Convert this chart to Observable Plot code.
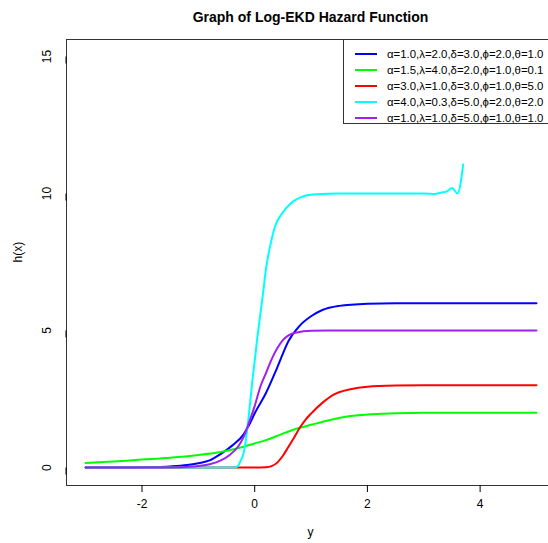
<!DOCTYPE html>
<html><head><meta charset="utf-8">
<script src="https://cdn.jsdelivr.net/npm/d3@7"></script>
<script src="https://cdn.jsdelivr.net/npm/@observablehq/plot@0.6"></script>
<style>
body{margin:0;overflow:hidden;background:white;font-family:"Liberation Sans",Arial,sans-serif}
#wrap{position:relative;width:548px;height:543px;overflow:hidden}
#legend{position:absolute;left:343px;top:39px;width:230px;height:85px;border:1px solid #333;background:white;box-sizing:border-box}
.row{position:absolute;left:0;height:16px;width:230px}
.row .sw{position:absolute;left:11px;top:7px;width:22px;height:2px}
.row .lb{position:absolute;left:43px;top:0;font-size:11.4px;line-height:16px;white-space:nowrap;color:#000}
</style></head>
<body><div id="wrap"><div id="chart"></div><div id="legend"></div></div>
<script>
const title = "Graph of Log-EKD Hazard Function";
const xLabel = "y";
const yLabel = "h(x)";
const xTicks = [-2, 0, 2, 4];
const yTicks = [0, 5, 10, 15];
const seriesLabels = [
  "α=1.0,λ=2.0,δ=3.0,ϕ=2.0,θ=1.0",
  "α=1.5,λ=4.0,δ=2.0,ϕ=1.0,θ=0.1",
  "α=3.0,λ=1.0,δ=3.0,ϕ=1.0,θ=5.0",
  "α=4.0,λ=0.3,δ=5.0,ϕ=2.0,θ=2.0",
  "α=1.0,λ=1.0,δ=5.0,ϕ=1.0,θ=1.0"
];
const seriesColors = ["#0000FF", "#00FF00", "#FF0000", "#00FFFF", "#A020F0"];

const blueX = [-3, -2.5, -2, -1.5, -1.2, -1.0, -0.8, -0.6, -0.4, -0.2, -0.1, 0, 0.2, 0.4, 0.6, 0.8, 1.0, 1.2, 1.5, 2.0, 2.5, 3, 4, 5];
const blueH = [0, 0, 0.01, 0.04, 0.09, 0.16, 0.26, 0.5, 0.8, 1.2, 1.55, 1.98, 2.72, 3.65, 4.62, 5.18, 5.52, 5.75, 5.9, 5.98, 6.0, 6.0, 6.0, 6.0];

const greenX = [-3, -2.5, -2, -1.5, -1, -0.6, -0.2, 0, 0.2, 0.5, 0.8, 1.0, 1.3, 1.7, 2.0, 2.5, 3, 4, 5];
const greenH = [0.17, 0.22, 0.29, 0.36, 0.46, 0.57, 0.76, 0.88, 1.0, 1.24, 1.45, 1.56, 1.72, 1.88, 1.94, 1.98, 2.0, 2.0, 2.0];

const redX = [-3, -1, 0, 0.2, 0.3, 0.4, 0.5, 0.6, 0.7, 0.8, 0.9, 1.0, 1.2, 1.4, 1.7, 2.0, 2.5, 3, 4, 5];
const redH = [0, 0, 0, 0.01, 0.05, 0.18, 0.43, 0.76, 1.1, 1.45, 1.74, 1.97, 2.36, 2.66, 2.86, 2.95, 2.99, 3.0, 3.0, 3.0];

const cyanX = [-3, -1, -0.37, -0.3, -0.25, -0.2, -0.15, -0.1, -0.05, 0, 0.05, 0.1, 0.15, 0.2, 0.28, 0.37, 0.49, 0.63, 0.87, 1.1, 1.5, 2.0, 2.5, 3.0, 3.2, 3.3, 3.4, 3.5, 3.6, 3.7];
const cyanH = [0, 0, 0, 0.05, 0.25, 0.5, 1.1, 2.0, 3.0, 3.9, 4.8, 5.6, 6.4, 7.25, 8.14, 8.85, 9.29, 9.62, 9.9, 9.97, 10.0, 10.0, 10.0, 10.0, 9.98, 10.03, 10.07, 10.2, 10.0, 11.06];

const purpleX = [-3, -1.5, -1.1, -0.8, -0.6, -0.45, -0.3, -0.2, -0.1, 0, 0.1, 0.2, 0.3, 0.4, 0.5, 0.6, 0.75, 1.0, 1.3, 2, 3, 4, 5];
const purpleH = [0, 0, 0.04, 0.12, 0.26, 0.45, 0.75, 1.1, 1.65, 2.25, 2.95, 3.45, 3.95, 4.35, 4.65, 4.82, 4.93, 4.99, 5.0, 5.0, 5.0, 5.0, 5.0];

const seriesX = [blueX, greenX, redX, cyanX, purpleX];
const seriesH = [blueH, greenH, redH, cyanH, purpleH];

const font = '"Liberation Sans", Arial, sans-serif';
const lineMarks = seriesX.map((xs, i) => Plot.line(
  xs.map((x, j) => ({x, h: seriesH[i][j]})),
  {x: "x", y: "h", stroke: seriesColors[i], strokeWidth: 2, curve: "monotone-x"}
));

const chart = Plot.plot({
  width: 548, height: 543,
  marginLeft: 66, marginRight: -6, marginTop: 39, marginBottom: 58,
  x: {domain: [-3.34, 5.32]},
  y: {domain: [-0.655, 15.62]},
  style: {fontFamily: font, fontSize: "12px", color: "black", background: "white", overflow: "hidden"},
  marks: [
    ...lineMarks,
    Plot.frame({stroke: "#333"}),
    Plot.axisX({ticks: xTicks, tickSize: 7, tickPadding: 7, label: null, tickFormat: d => String(d), fontSize: 12}),
    Plot.axisY({ticks: yTicks, tickSize: 7, tickPadding: 12, rotate: -90, textAnchor: "middle", label: null, tickFormat: d => String(d), fontSize: 12}),
    Plot.text([title], {text: d => d, frameAnchor: "top", dy: -27.5, fontWeight: "bold", fontSize: 14}),
    Plot.text([xLabel], {text: d => d, frameAnchor: "bottom", dy: 50, fontSize: 12}),
    Plot.text([yLabel], {text: d => d, frameAnchor: "left", dx: -48, rotate: -90, fontSize: 12})
  ]
});
document.getElementById("chart").appendChild(chart);

const legend = document.getElementById("legend");
seriesLabels.forEach((lab, i) => {
  const row = document.createElement("div");
  row.className = "row";
  row.style.top = (6 + i * 16) + "px";
  const sw = document.createElement("div");
  sw.className = "sw"; sw.style.background = seriesColors[i];
  const lb = document.createElement("div");
  lb.className = "lb"; lb.textContent = lab;
  row.appendChild(sw); row.appendChild(lb);
  legend.appendChild(row);
});
</script></body></html>
